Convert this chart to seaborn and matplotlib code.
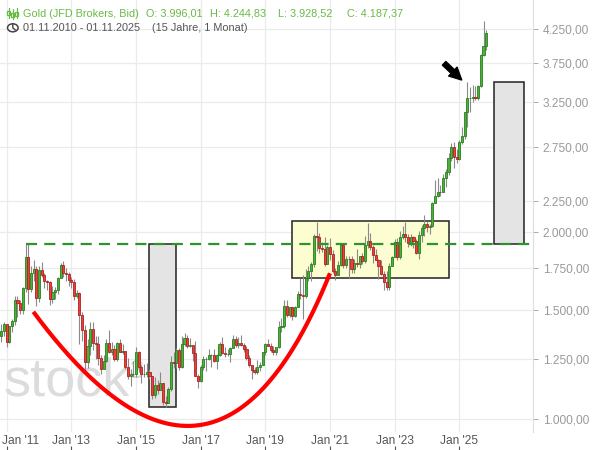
import numpy as np
import pandas as pd
import matplotlib
matplotlib.use("Agg")
import matplotlib.pyplot as plt
import matplotlib.transforms as mtransforms
import seaborn as sns
from matplotlib.patches import Rectangle, Circle
from matplotlib.lines import Line2D
from matplotlib.ticker import FixedLocator, NullLocator, FuncFormatter

# ---------------- data (monthly OHLC, Gold in USD) ----------------
start_month = "2010-11-01"
opens = [1359, 1386,
         1421, 1332, 1411, 1439, 1556, 1536, 1500, 1628, 1828, 1620, 1722, 1746,
         1566, 1737, 1710, 1669, 1664, 1561, 1604, 1614, 1687, 1773, 1719, 1713,
         1675, 1663, 1578, 1597, 1472, 1393, 1234, 1313, 1396, 1327, 1323, 1253,
         1202, 1240, 1326, 1284, 1296, 1250, 1327, 1282, 1287, 1211, 1171, 1183,
         1184, 1283, 1213, 1183, 1184, 1190, 1172, 1095, 1134, 1115, 1142, 1065,
         1061, 1118, 1238, 1233, 1293, 1214, 1322, 1351, 1309, 1316, 1277, 1173,
         1151, 1211, 1249, 1249, 1268, 1268, 1242, 1269, 1322, 1280, 1271, 1275,
         1303, 1345, 1318, 1325, 1315, 1298, 1253, 1224, 1201, 1192, 1215, 1222,
         1282, 1321, 1313, 1292, 1284, 1305, 1409, 1413, 1520, 1472, 1513, 1464,
         1517, 1589, 1585, 1577, 1686, 1730, 1781, 1975, 1968, 1886, 1879, 1776,
         1895, 1847, 1734, 1708, 1769, 1907, 1770, 1814, 1814, 1743, 1783, 1775,
         1829, 1797, 1909, 1937, 1897, 1838, 1807, 1766, 1711, 1661, 1633, 1768,
         1824, 1928, 1827, 1969, 1990, 1963, 1919, 1965, 1940, 1849, 1983, 2036,
         2063, 2039, 2044, 2230, 2286, 2327, 2326, 2448, 2503, 2635, 2744, 2643,
         2625, 2798, 2858, 3124, 3289, 3289, 3303, 3290, 3448, 3858, 3996]
highs = [1424, 1431,
         1424, 1412, 1447, 1576, 1577, 1553, 1632, 1913, 1921, 1764, 1803, 1764,
         1764, 1791, 1720, 1677, 1670, 1641, 1630, 1692, 1788, 1796, 1755, 1723,
         1695, 1683, 1617, 1605, 1488, 1417, 1348, 1433, 1434, 1362, 1361, 1267,
         1270, 1345, 1392, 1332, 1315, 1332, 1345, 1323, 1288, 1255, 1205, 1239,
         1308, 1289, 1224, 1225, 1232, 1205, 1175, 1170, 1157, 1191, 1142, 1088,
         1125, 1263, 1283, 1303, 1304, 1362, 1375, 1367, 1352, 1317, 1338, 1180,
         1220, 1264, 1261, 1296, 1272, 1296, 1271, 1331, 1357, 1306, 1299, 1307,
         1366, 1361, 1356, 1366, 1326, 1309, 1266, 1224, 1214, 1243, 1237, 1284,
         1326, 1347, 1324, 1310, 1306, 1439, 1453, 1555, 1557, 1517, 1516, 1524,
         1611, 1689, 1704, 1748, 1765, 1789, 1984, 2075, 1992, 1933, 1965, 1906,
         1959, 1875, 1755, 1798, 1913, 1917, 1832, 1834, 1834, 1814, 1877, 1831,
         1853, 1974, 2070, 1998, 1910, 1880, 1814, 1808, 1735, 1730, 1786, 1833,
         1949, 1959, 2010, 2049, 2079, 1984, 1987, 1970, 1953, 2009, 2052, 2135,
         2088, 2065, 2236, 2431, 2450, 2388, 2483, 2531, 2685, 2790, 2801, 2726,
         2817, 2956, 3128, 3500, 3435, 3452, 3439, 3454, 3871, 4381, 4245]
lows = [1330, 1360,
        1308, 1327, 1381, 1418, 1462, 1478, 1478, 1603, 1535, 1602, 1670, 1523,
        1544, 1692, 1628, 1614, 1527, 1540, 1563, 1588, 1686, 1693, 1672, 1636,
        1626, 1555, 1565, 1322, 1338, 1180, 1207, 1270, 1292, 1251, 1221, 1181,
        1202, 1238, 1277, 1268, 1240, 1241, 1281, 1273, 1205, 1160, 1131, 1170,
        1167, 1190, 1142, 1170, 1170, 1162, 1077, 1080, 1098, 1112, 1053, 1046,
        1061, 1108, 1208, 1207, 1200, 1207, 1310, 1302, 1305, 1241, 1171, 1122,
        1147, 1200, 1195, 1245, 1214, 1236, 1204, 1265, 1275, 1260, 1265, 1236,
        1302, 1307, 1303, 1310, 1282, 1245, 1211, 1160, 1180, 1182, 1196, 1221,
        1266, 1311, 1281, 1266, 1267, 1300, 1382, 1400, 1459, 1458, 1446, 1459,
        1517, 1563, 1451, 1568, 1670, 1671, 1757, 1863, 1849, 1860, 1764, 1775,
        1803, 1717, 1677, 1706, 1766, 1750, 1751, 1688, 1721, 1721, 1759, 1753,
        1780, 1782, 1890, 1872, 1787, 1805, 1681, 1709, 1615, 1617, 1616, 1765,
        1823, 1804, 1810, 1950, 1932, 1893, 1903, 1885, 1846, 1810, 1931, 1973,
        2002, 1984, 2039, 2228, 2277, 2287, 2319, 2364, 2471, 2604, 2536, 2583,
        2614, 2772, 2833, 2957, 3121, 3247, 3268, 3268, 3436, 3850, 3929]
closes = [1386, 1421,
          1332, 1411, 1439, 1556, 1536, 1500, 1628, 1828, 1620, 1722, 1746, 1566,
          1737, 1710, 1669, 1664, 1561, 1604, 1614, 1687, 1773, 1719, 1713, 1675,
          1663, 1578, 1597, 1472, 1393, 1234, 1313, 1396, 1327, 1323, 1253, 1202,
          1240, 1326, 1284, 1296, 1250, 1327, 1282, 1287, 1211, 1171, 1183, 1184,
          1283, 1213, 1183, 1184, 1190, 1172, 1095, 1134, 1115, 1142, 1065, 1061,
          1118, 1238, 1233, 1293, 1214, 1322, 1351, 1309, 1316, 1277, 1173, 1151,
          1211, 1249, 1249, 1268, 1268, 1242, 1269, 1322, 1280, 1271, 1275, 1303,
          1345, 1318, 1325, 1315, 1298, 1253, 1224, 1201, 1192, 1215, 1222, 1282,
          1321, 1313, 1292, 1284, 1305, 1409, 1413, 1520, 1472, 1513, 1464, 1517,
          1589, 1585, 1577, 1686, 1730, 1781, 1975, 1968, 1886, 1879, 1776, 1895,
          1847, 1734, 1708, 1769, 1907, 1770, 1814, 1814, 1743, 1783, 1775, 1829,
          1797, 1909, 1937, 1897, 1838, 1807, 1766, 1711, 1661, 1633, 1768, 1824,
          1928, 1827, 1969, 1990, 1963, 1919, 1965, 1940, 1849, 1983, 2036, 2063,
          2039, 2044, 2230, 2286, 2327, 2326, 2448, 2503, 2635, 2744, 2643, 2625,
          2798, 2858, 3124, 3289, 3289, 3303, 3290, 3448, 3858, 4002, 4187]

y_ticks = [1000, 1250, 1500, 1750, 2000, 2250, 2750, 3250, 3750, 4250]
resistance_level = 1913
resistance_from = "2011-08-01"
# annotation boxes: (start month, end month, low price, high price)
box_gray_1 = ("2015-06-01", "2016-04-01", 1046, 1913)
box_yellow = ("2019-11-01", "2024-09-01", 1688, 2086)
box_gray_2 = ("2026-02-01", "2027-01-01", 1913, 3491)
# cup curve control points (month, price) -- quadratic bezier
cup_months = ["2011-10-28", "2017-06-15", "2020-12-31"]
cup_prices = [1489, 597, 1718]
arrow_from = ("2024-07-12", 3746)
arrow_to = ("2025-01-28", 3521)

title_parts = ["Gold (JFD Brokers, Bid)", "O: 3.996,01", "H: 4.244,83",
               "L: 3.928,52", "C: 4.187,37"]
range_parts = ["01.11.2010 - 01.11.2025", "(15 Jahre, 1 Monat)"]

# ---------------- helpers ----------------
dates = pd.date_range(start_month, periods=len(closes), freq="MS")
df = pd.DataFrame({"date": dates, "open": opens, "high": highs,
                   "low": lows, "close": closes})
df["i"] = np.arange(len(df))
t0 = pd.Timestamp(start_month)


def midx(s):
    d = pd.Timestamp(s)
    return (d.year - t0.year) * 12 + (d.month - t0.month) + (d.day - 1) / 30.0


W, H = 595, 450
sns.set_theme(style="white")
plt.rcParams["font.family"] = ["Liberation Sans", "DejaVu Sans"]

fig = plt.figure(figsize=(W / 100, H / 100), dpi=100)
ax = fig.add_axes([0, 18 / H, 533 / W, 432 / H])
ax.set_facecolor("white")
ax.set_yscale("log")
ax.set_xlim(-0.486, 197.36)
ax.set_ylim(952.9, 4739)

# grid
xt = [i for i, d in zip(df.i, df.date) if d.month == 1 and d.year % 2 == 1]
xl = [f"Jan '{d.year % 100:02d}" for d in df.date if d.month == 1 and d.year % 2 == 1]
for v in y_ticks:
    ax.axhline(v, color="#ebebeb", lw=0.9, zorder=0)
for v in xt:
    ax.axvline(v, color="#ebebeb", lw=0.9, zorder=0)

# watermark
ax.text(4 / 533, (432 - 395) / 432, "stock", transform=ax.transAxes,
        fontsize=39, color="#dcdcdc", va="baseline", ha="left", zorder=0.5)
ax.text(130 / 533, (432 - 378) / 432, "3", transform=ax.transAxes,
        fontsize=18, color="#d4d4d4", va="baseline", ha="left", zorder=0.5)

# boxes
for (a, b, lo, hi), fc in [(box_gray_1, "#e4e4e4"), (box_yellow, "#fdfdd2"),
                           (box_gray_2, "#e4e4e4")]:
    x0, x1 = midx(a), midx(b)
    ax.add_patch(Rectangle((x0, lo), x1 - x0, hi - lo, facecolor=fc,
                           edgecolor="#222222", lw=1.1, zorder=1))

# candles
up = df.close >= df.open
ax.vlines(df.i, df.low, df.high, color="#8a8a8a", lw=0.8, zorder=3)
body_w = 0.78
ax.bar(df.i[up], (df.close - df.open)[up], bottom=df.open[up], width=body_w,
       color="#4cb03a", edgecolor="#26801c", lw=0.6, zorder=4)
ax.bar(df.i[~up], (df.open - df.close)[~up], bottom=df.close[~up], width=body_w,
       color="#e8403a", edgecolor="#b02020", lw=0.6, zorder=4)

# resistance dashed line
rx = [midx(resistance_from), 197.36]
sns.lineplot(x=rx, y=[resistance_level] * 2, ax=ax, color="#2a962a", lw=1.6,
             dashes=False, zorder=5)
ax.lines[-1].set_dashes([5, 3.2])

# cup curve
t = np.linspace(0, 1, 200)
cx = [midx(m) for m in cup_months]
cy = np.log(cup_prices)
bx = (1 - t) ** 2 * cx[0] + 2 * t * (1 - t) * cx[1] + t ** 2 * cx[2]
by = np.exp((1 - t) ** 2 * cy[0] + 2 * t * (1 - t) * cy[1] + t ** 2 * cy[2])
ax.plot(bx, by, color="#ff0000", lw=3.0, solid_capstyle="butt", zorder=6)

# arrow
ax.annotate("", xy=(midx(arrow_to[0]), arrow_to[1]),
            xytext=(midx(arrow_from[0]), arrow_from[1]),
            arrowprops=dict(arrowstyle="simple,head_length=1.1,head_width=1.1,tail_width=0.45",
                            color="black", mutation_scale=8, shrinkA=0, shrinkB=0),
            zorder=7)

# axes cosmetics
for s in ["top", "left", "bottom"]:
    ax.spines[s].set_visible(False)
ax.spines["right"].set_color("#dddddd")
ax.spines["right"].set_linewidth(0.8)
ax.yaxis.tick_right()
ax.yaxis.set_major_locator(FixedLocator(y_ticks))
ax.yaxis.set_minor_locator(NullLocator())


def de_fmt(v, pos=None):
    s = f"{v:,.2f}"
    return s.replace(",", "X").replace(".", ",").replace("X", ".")


ax.yaxis.set_major_formatter(FuncFormatter(de_fmt))
ax.tick_params(axis="y", which="major", length=3.6, width=0.7, color="#aaaaaa",
               pad=3.5, labelsize=8.6, labelcolor="#9a9a9a", right=True, left=False)
ax.set_xticks(xt)
ax.set_xticklabels(xl)
ax.tick_params(axis="x", length=0, pad=2.5, labelsize=8.6, labelcolor="#555555")
ax.xaxis.set_minor_locator(NullLocator())
# first label is kept inside the canvas (left aligned)
first = ax.get_xticklabels()[0]
first.set_horizontalalignment("left")
first.set_transform(first.get_transform() +
                    mtransforms.ScaledTranslation(-5 / 100, 0, fig.dpi_scale_trans))

sec = ax.secondary_xaxis(-18 / 432)
sec.set_xticks(xt)
sec.set_xticklabels([""] * len(xt))
sec.tick_params(axis="x", direction="in", length=3, width=0.8, color="#555555")
sec.spines["bottom"].set_visible(False)


# header
def fx(x):
    return x / W


def fy(y):
    return 1 - y / H


for txt, x in zip(title_parts, [23, 146, 210, 278, 347]):
    fig.text(fx(x), fy(14), txt, color="#66bb44", fontsize=7.8,
             va="center", ha="left")
for txt, x in zip(range_parts, [23, 151.7]):
    fig.text(fx(x), fy(28), txt, color="#555555", fontsize=7.85,
             va="center", ha="left")
# candle icon
for x, (b0, b1, w0, w1) in zip([8.5, 12.5, 16.5],
                                [(11, 15, 8, 18), (13, 17, 9, 19), (12, 16, 8, 18)]):
    fig.add_artist(Line2D([fx(x), fx(x)], [fy(w0), fy(w1)], color="#66bb44", lw=0.9))
    fig.add_artist(Rectangle((fx(x - 1.5), fy(b1)), 3 / W, (b1 - b0) / H,
                             facecolor="white", edgecolor="#66bb44", lw=0.9,
                             transform=fig.transFigure))
# clock icon
fig.add_artist(Circle((fx(12.8), fy(27.8)), 5.3 / W, transform=fig.transFigure,
                      facecolor="none", edgecolor="#444444", lw=1.1))
fig.add_artist(Line2D([fx(12.8), fx(12.8), fx(15.3)],
                      [fy(24.3), fy(27.8), fy(30.0)], color="#444444", lw=1.0))

fig.savefig("out.png", dpi=100)
